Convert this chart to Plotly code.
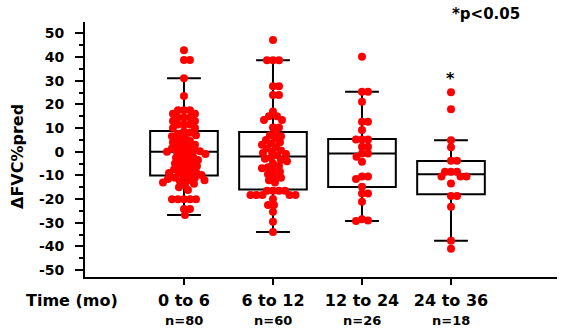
import plotly.graph_objects as go

# ---------------- data ----------------
categories = ["0 to 6", "6 to 12", "12 to 24", "24 to 36"]
counts = ["n=80", "n=60", "n=26", "n=18"]

# box statistics
q1 = [-10.0, -15.9, -14.9, -18.0]
median = [0.0, -2.0, -0.7, -9.5]
q3 = [8.8, 8.3, 5.4, -3.9]
lowerfence = [-26.7, -33.9, -29.3, -37.6]
upperfence = [31.0, 38.6, 25.3, 4.9]

g1 = [42.9, 38.7, 38.7, 31.0, 23.5,
      17.5, 17.5, 17.5, 16.0, 16.0, 14.5, 14.5, 14.5, 13.0, 13.0, 11.5, 11.5, 11.5, 10.0, 10.0,
      8.5, 8.0, 7.5, 7.0, 6.5, 6.0, 5.0, 4.5, 4.0, 3.5, 3.0, 2.5, 2.0, 1.5, 1.0, 0.5, 0.2, 0.0, 0.0, -0.5,
      -1.0, -1.5, -2.0, -2.5, -3.0, -3.5, -4.0, -4.5, -5.0, -5.5, -6.0, -6.5, -7.0, -7.5, -8.0, -8.5, -9.0, -9.0, -9.5, -9.8,
      -10.5, -11.0, -11.0, -11.5, -12.0, -12.0, -12.5, -13.0, -13.5, -14.0, -15.0,
      -16.2, -20.1, -20.1, -20.1, -20.1, -20.1, -24.2, -24.2, -26.7]
g2 = [47.2, 38.6, 38.6, 38.6, 27.7, 27.7, 24.0, 24.0, 17.0, 15.0, 15.0, 13.4, 13.4, 10.2, 10.2,
      8.0, 7.0, 6.5, 5.5, 5.0, 4.0, 3.5, 3.0, 2.0, 1.5, 0.5, 0.0, -0.5, -1.0, -1.5,
      -2.5, -3.0, -3.5, -4.0, -5.0, -6.0, -6.5, -7.0, -8.0, -8.5, -9.5, -10.5, -11.0, -12.0, -13.0,
      -16.5, -16.5, -16.5, -16.5, -18.3, -18.3, -18.3, -18.3, -18.3, -20.0, -22.5, -22.5, -25.3, -29.6, -33.9]
g3 = [40.1, 25.3, 25.3, 21.1, 12.7, 12.7, 9.2,
      5.2, 5.2, 5.2, 2.1, 2.1, -0.7, -0.7, -2.1, -4.2, -10.5, -10.5, -11.5,
      -14.8, -17.6, -17.6, -21.1, -28.5, -29.0, -29.3]
g4 = [25.1, 18.0, 4.9, 1.9, -3.8, -3.8, -8.4, -8.4, -8.4, -10.5, -10.5, -10.5,
      -13.4, -18.7, -18.7, -23.2, -37.6, -41.0]
groups = [g1, g2, g3, g4]

y_ticks = [-50, -40, -30, -20, -10, 0, 10, 20, 30, 40, 50]
y_ticktext = ["-50", "-40", "-30", "-20", "-10", "0", "10", "20", "30", "40", "50"]

# ---------------- layout constants ----------------
W, H = 561, 328
M = dict(l=85, r=4, t=22, b=51)
XR = [-1.112, 4.191]
YR = [-52.9, 54.8]
PW = W - M["l"] - M["r"]
PH = H - M["t"] - M["b"]
px_x = PW / (XR[1] - XR[0])
px_y = PH / (YR[1] - YR[0])


def swarm(vals, d=6.0):
    """beeswarm offsets (in px) so markers don't overlap too much"""
    order = sorted(range(len(vals)), key=lambda i: -vals[i])
    placed = []
    offs = [0.0] * len(vals)
    for i in order:
        yp = vals[i] * px_y
        best = None
        k = 0
        while best is None:
            for cand in ([0.0] if k == 0 else [k * 0.5, -k * 0.5]):
                ok = True
                for (px0, py0) in placed:
                    if (cand - px0) ** 2 + (yp - py0) ** 2 < d * d:
                        ok = False
                        break
                if ok:
                    best = cand
                    break
            k += 1
        placed.append((best, yp))
        offs[i] = best
    return offs


def paper_x(px):
    return (px - M["l"]) / PW


def paper_y(py):
    return (H - M["b"] - py) / PH


fig = go.Figure()

fig.add_trace(go.Box(
    x=list(range(len(categories))), q1=q1, median=median, q3=q3,
    lowerfence=lowerfence, upperfence=upperfence,
    boxpoints=False, width=0.76, whiskerwidth=0.5,
    line=dict(color="black", width=2), fillcolor="rgba(0,0,0,0)",
    showlegend=False, hoverinfo="skip"))

xs, ys = [], []
for gi, g in enumerate(groups):
    offs = swarm(g)
    for v, o in zip(g, offs):
        xs.append(gi + o / px_x)
        ys.append(v)

fig.add_trace(go.Scatter(
    x=xs, y=ys, mode="markers",
    marker=dict(color="#ff0000", size=8, line=dict(width=0)),
    showlegend=False, hoverinfo="skip"))

bold = dict(family="DejaVu Sans", color="black", weight="bold")

annotations = [
    dict(text="ΔFVC%pred", x=paper_x(17), y=paper_y(157), xref="paper", yref="paper",
         xanchor="center", yanchor="middle",
         textangle=-90, showarrow=False, font=dict(size=16, **bold)),
    dict(text="Time (mo)", x=paper_x(72), y=paper_y(300), xref="paper", yref="paper",
         xanchor="center", yanchor="middle",
         showarrow=False, font=dict(size=16, **bold)),
    dict(text="*p<0.05", x=paper_x(486), y=paper_y(14), xref="paper", yref="paper",
         xanchor="center", yanchor="middle",
         showarrow=False, font=dict(size=15, **bold)),
    dict(text="*", x=3, y=31.0, xref="x", yref="y", showarrow=False,
         xanchor="center", yanchor="middle",
         font=dict(size=16, **bold)),
]
for i, c in enumerate(counts):
    annotations.append(dict(text=c, x=i, y=paper_y(320), xref="x", yref="paper",
                            xanchor="center", yanchor="middle", showarrow=False,
                            font=dict(size=13, **bold)))

fig.update_layout(
    width=W, height=H, margin=M,
    paper_bgcolor="white", plot_bgcolor="white",
    annotations=annotations,
    xaxis=dict(range=XR, tickvals=list(range(len(categories))), ticktext=categories,
               showline=True, linecolor="black", linewidth=2,
               ticks="outside", ticklen=6, tickwidth=2, tickcolor="black",
               tickfont=dict(size=16, **bold), showgrid=False, zeroline=False,
               ticklabelstandoff=2),
    yaxis=dict(range=YR, tickvals=y_ticks, ticktext=y_ticktext,
               showline=True, linecolor="black", linewidth=2,
               ticks="outside", ticklen=8, tickwidth=2, tickcolor="black",
               tickfont=dict(size=14, **bold), showgrid=False, zeroline=False,
               ticklabelstandoff=8,
               minor=dict(tickvals=[v + 5 for v in y_ticks[:-1]], ticks="outside",
                          ticklen=4, tickwidth=2, tickcolor="black", showgrid=False)),
)

fig.write_html("out.html", config={"displayModeBar": False},
               post_script="document.body.style.margin='0';document.body.style.padding='0';")
